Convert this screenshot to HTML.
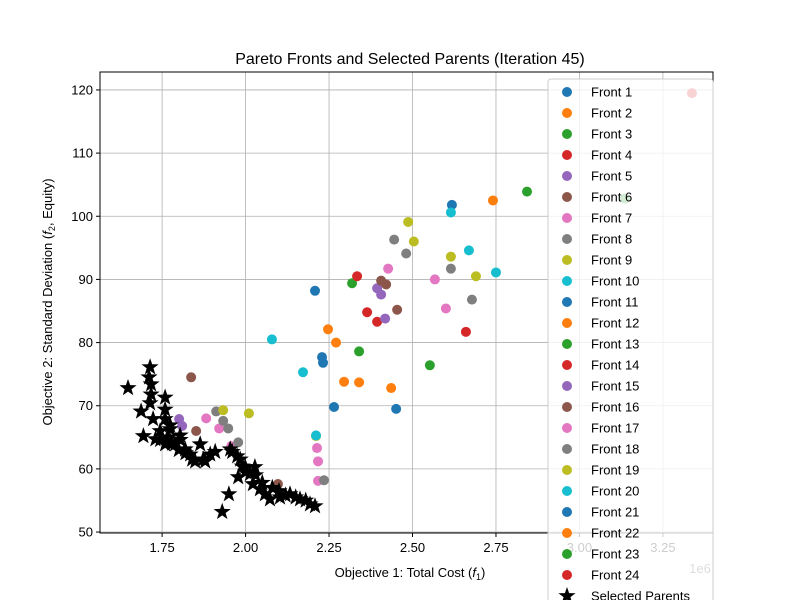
<!DOCTYPE html>
<html><head><meta charset="utf-8"><style>
body{margin:0;background:#fff;}
svg{display:block;font-family:"Liberation Sans","DejaVu Sans",sans-serif;}
</style></head><body>
<svg id="chart" width="800" height="600">
<rect width="800" height="600" fill="#fff"/>
<text x="410" y="64" text-anchor="middle" font-size="16">Pareto Fronts and Selected Parents (Iteration 45)</text>
<g id="grid"></g>
<g id="points"></g>
<g id="stars"></g>
<rect x="100" y="72" width="613" height="461" fill="none" stroke="#000" stroke-width="1"/>
<g id="ticks"></g>
<text x="410" y="577" text-anchor="middle" font-size="13">Objective 1: Total Cost (<tspan font-style="italic">f</tspan><tspan font-size="9" dy="3">1</tspan><tspan dy="-3">)</tspan></text>
<text x="700" y="573" text-anchor="middle" font-size="13" fill="#555">1e6</text>
<text transform="translate(52,302) rotate(-90)" text-anchor="middle" font-size="13">Objective 2: Standard Deviation (<tspan font-style="italic">f</tspan><tspan font-size="9" dy="3">2</tspan><tspan dy="-3">, Equity)</tspan></text>
<g id="legend"></g>
</svg>
<script>
const xTicks=[1.75,2.00,2.25,2.50,2.75,3.00,3.25];
const yTicks=[50,60,70,80,90,100,110,120];
const frontColors=["#1f77b4","#ff7f0e","#2ca02c","#d62728","#9467bd","#8c564b","#e377c2","#7f7f7f","#bcbd22","#17becf"];
const frontNames=["Front 1","Front 2","Front 3","Front 4","Front 5","Front 6","Front 7","Front 8","Front 9","Front 10","Front 11","Front 12","Front 13","Front 14","Front 15","Front 16","Front 17","Front 18","Front 19","Front 20","Front 21","Front 22","Front 23","Front 24"];
const blueX=[2.618,2.208,2.229,2.232,2.265,2.451];
const blueY=[101.8,88.2,77.7,76.8,69.8,69.5];
const orangeX=[2.741,2.247,2.271,2.295,2.340,2.436];
const orangeY=[102.5,82.1,80.0,73.8,73.7,72.8];
const greenX=[2.843,3.136,2.319,2.340,2.552];
const greenY=[103.9,102.8,89.4,78.6,76.4];
const redX=[3.337,2.334,2.364,2.394,2.660];
const redY=[119.5,90.5,84.8,83.3,81.7];
const purpleX=[2.394,2.406,2.418,1.801,1.810];
const purpleY=[88.6,87.6,83.8,67.9,66.8];
const brownX=[2.406,2.421,2.454,1.837,1.852,2.097];
const brownY=[89.8,89.2,85.2,74.5,66.0,57.6];
const pinkX=[2.427,2.567,2.600,1.882,1.921,1.957,2.214,2.217,2.217];
const pinkY=[91.7,90.0,85.4,68.0,66.4,63.6,63.3,61.2,58.1];
const grayX=[2.445,2.481,2.615,2.678,1.912,1.933,1.948,1.978,2.235];
const grayY=[96.3,94.1,91.7,86.8,69.1,67.6,66.4,64.2,58.2];
const oliveX=[2.487,2.504,2.615,2.690,1.933,2.010,2.211];
const oliveY=[99.1,96.0,93.6,90.5,69.3,68.8,65.2];
const cyanX=[2.615,2.669,2.750,2.172,2.079,2.211];
const cyanY=[100.6,94.6,91.1,75.3,80.5,65.3];
const parentX=[1.648,1.687,1.711,1.714,1.717,1.714,1.717,1.759,1.744,1.759,1.774,1.804,1.864,1.894,1.954,1.984,1.999,2.013,2.022,2.043,2.073,2.103,2.163,2.193,2.208,1.950,1.930,1.694,1.730,1.759,1.789,1.819,1.834,1.849,1.879,1.909,1.975,1.990,2.028,1.744,1.774,1.804,1.723,1.759,1.960,1.978,2.058,2.133,1.873,1.78,1.80,1.82,1.84,1.77,2.08,2.12,2.15,2.18,2.10,2.05,2.03,2.00];
const parentY=[72.8,69.1,74.5,76.1,73.4,70.4,71.8,71.3,66.0,67.9,66.3,65.3,63.9,62.3,63.1,61.5,60.3,59.2,57.6,56.8,55.2,55.5,55.2,54.4,54.1,56.0,53.2,65.2,64.7,63.9,63.9,63.1,62.3,61.2,61.2,62.7,62.0,60.4,60.3,64.6,66.9,64.6,67.9,69.4,62.7,58.7,56.0,56.0,61.5,64.0,63.0,62.5,61.5,65.0,57.0,55.8,55.5,55.0,56.5,57.8,59.0,59.5];

const NS="http://www.w3.org/2000/svg";
const X0=100,X1=713,Y0=72,Y1=533;
const xMin=1.5640,xMax=3.4, yMin=49.85, yMax=122.84;
function sx(v){return X0+(v-xMin)/(xMax-xMin)*(X1-X0);}
function sy(v){return Y1-(v-yMin)/(yMax-yMin)*(Y1-Y0);}
function mk(tag,attrs,parent){const e=document.createElementNS(NS,tag);for(const k in attrs)e.setAttribute(k,attrs[k]);parent.appendChild(e);return e;}
const grid=document.getElementById('grid'),ticks=document.getElementById('ticks');
xTicks.forEach(t=>{const x=sx(t);
 const g=mk('line',{x1:x,x2:x,y1:Y0,y2:Y1,stroke:'#b0b0b0','stroke-width':0.8},grid);
 
 
 const tk=mk('line',{x1:x,x2:x,y1:Y1,y2:Y1+4,stroke:'#000'},ticks);
 
 
 const tx=mk('text',{x:x,y:Y1+19,'text-anchor':'middle','font-size':13},ticks);tx.textContent=t.toFixed(2);
 
 
});
yTicks.forEach(t=>{const y=sy(t);
 const g=mk('line',{x1:X0,x2:X1,y1:y,y2:y,stroke:'#b0b0b0','stroke-width':0.8},grid);
 
 
 const tk=mk('line',{x1:X0-4,x2:X0,y1:y,y2:y,stroke:'#000'},ticks);
 
 
 const tx=mk('text',{x:X0-7,y:y+4.5,'text-anchor':'end','font-size':13},ticks);tx.textContent=t;
 
 
});
const pts=document.getElementById('points');
const groups=[[blueX,blueY,0],[orangeX,orangeY,1],[greenX,greenY,2],[redX,redY,3],[purpleX,purpleY,4],[brownX,brownY,5],[pinkX,pinkY,6],[grayX,grayY,7],[oliveX,oliveY,8],[cyanX,cyanY,9]];
groups.forEach(([xs,ys,c])=>{xs.forEach((v,i)=>{
 const p=mk('circle',{cx:sx(v),cy:sy(ys[i]),r:5,fill:frontColors[c]},pts);
 
 
});});
function starPts(cx,cy,R){const r=R*0.4;let s=[];for(let i=0;i<10;i++){const a=-Math.PI/2+i*Math.PI/5;const rr=i%2?r:R;s.push((cx+rr*Math.cos(a)).toFixed(1)+','+(cy+rr*Math.sin(a)).toFixed(1));}return s.join(' ');}
const st=document.getElementById('stars');
parentX.forEach((v,i)=>{
 const s=mk('polygon',{points:starPts(sx(v),sy(parentY[i]),9),fill:'#000'},st);
 
 
});
const lg=document.getElementById('legend');
mk('rect',{x:548,y:79,width:165,height:540,rx:3,fill:'#fff','fill-opacity':0.8,stroke:'#ccc'},lg);
frontNames.forEach((n,i)=>{const y=91+21*i;
 const c=mk('circle',{cx:567,cy:y+1,r:5,fill:frontColors[i%10]},lg);
 
 
 const t=mk('text',{x:591,y:y+5.5,'font-size':13},lg);t.textContent=n;
 
 
});
const ly=91+21*24;
const ls=mk('polygon',{points:starPts(567,ly+1,9),fill:'#000'},lg);


const lt=mk('text',{x:591,y:ly+5.5,'font-size':13},lg);lt.textContent='Selected Parents';


</script>
</body></html>
